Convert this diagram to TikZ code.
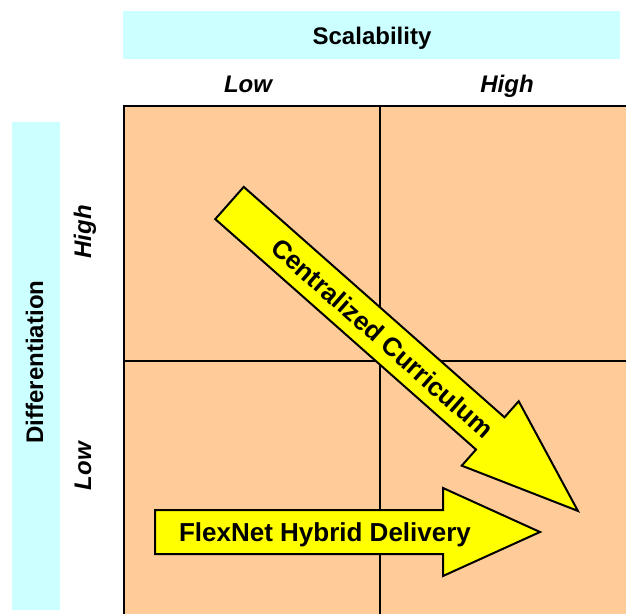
\documentclass[tikz,border=0pt]{standalone}
\usepackage{fontspec}
\setmainfont{Liberation Sans}
\begin{document}
\begin{tikzpicture}[x=1pt,y=-1pt,
  band/.style={fill=bandcyan,draw=none},
  axistitle/.style={font=\fontsize{24}{28}\selectfont\bfseries,inner sep=0pt},
  levellabel/.style={font=\fontsize{24}{28}\selectfont\bfseries\itshape,inner sep=0pt},
  gridline/.style={line width=2.4pt,draw=black},
  bigarrow/.style={fill=arrowyellow,draw=black,line width=2pt,line join=miter},
  arrowtext/.style={font=\fontsize{26}{30}\selectfont\bfseries,inner sep=0pt}]
\definecolor{bandcyan}{HTML}{CCFFFF}
\definecolor{cellpeach}{HTML}{FFCC99}
\definecolor{arrowyellow}{HTML}{FFFF00}
\useasboundingbox (0,0) rectangle (626,613);
\clip (0,0) rectangle (626,613);

% header bands
\fill[band] (123,11) rectangle (620,59);
\fill[band] (12,122) rectangle (60,610);

% axis titles
\node[axistitle,anchor=base] (scal) at (372,44) {Scalability};
\node[axistitle,anchor=base,rotate=90] (diff) at (43,362) {Differentiation};

% level labels
\node[levellabel,anchor=base] (xlow) at (248,92.5) {Low};
\node[levellabel,anchor=base] (xhigh) at (507,92.5) {High};
\node[levellabel,anchor=base,rotate=90] (yhigh) at (91,232) {High};
\node[levellabel,anchor=base,rotate=90] (ylow) at (91,466) {Low};

% the four cells
\coordinate (gtl) at (124,106);
\coordinate (gbr) at (640,630);
\fill[cellpeach] (gtl) rectangle (gbr);
\draw[gridline] (gbr |- gtl) -- (gtl) -- (gtl |- gbr);
\coordinate (vtop) at (380,106);
\coordinate (hleft) at (124,361);
\draw[gridline] (vtop) -- (vtop |- gbr);
\draw[gridline] (hleft) -- (hleft -| gbr);

% diagonal arrow
\begin{scope}[shift={(229.5,203)},rotate=-41.47]
  \draw[bigarrow] (0pt,21.5pt) -- (348pt,21.5pt) -- (348pt,43pt) -- (465pt,0pt)
    -- (348pt,-43pt) -- (348pt,-21.5pt) -- (0pt,-21.5pt) -- cycle;
  \node[arrowtext,rotate=-41.47] (cc) at (204pt,0pt) {Centralized Curriculum};
\end{scope}

% horizontal arrow
\draw[bigarrow] (155,510) -- (443,510) -- (443,488) -- (540,532) -- (443,576)
  -- (443,554) -- (155,554) -- cycle;
\node[arrowtext,anchor=base] (fh) at (325,541.7) {FlexNet Hybrid Delivery};
\end{tikzpicture}
\end{document}
